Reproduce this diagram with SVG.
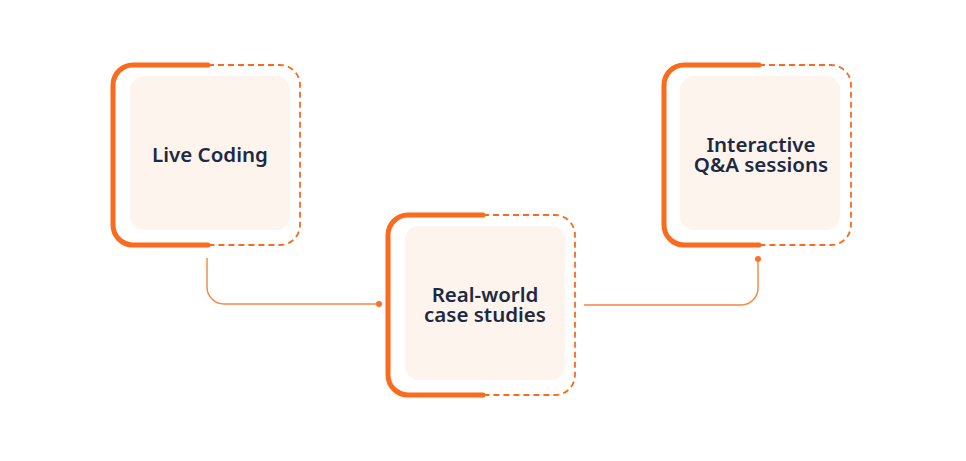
<svg xmlns="http://www.w3.org/2000/svg" width="966" height="461" viewBox="0 0 966 461">
<style>
.solid{fill:none;stroke:#FA6B1E;stroke-width:5;stroke-linecap:round}
.dash{fill:none;stroke:#FA6B1E;stroke-width:1.8;stroke-dasharray:6 4}
.inner{fill:#FDF4EE}
.lbl{font-family:"Noto Sans",sans-serif;font-weight:600;font-size:20.5px;fill:#1D2943;text-anchor:middle}
.conn{fill:none;stroke:#F7843F;stroke-width:1.4}
.dot{fill:#F7722A}
</style>
<rect width="966" height="461" fill="#ffffff"/>
<g id="connectors">
<path class="conn" d="M207,258 V287 A17,17 0 0 0 224,304 H379"/>
<circle class="dot" cx="379" cy="304" r="3"/>
<path class="conn" d="M584,305 H741 A17,17 0 0 0 758,288 V259"/>
<circle class="dot" cx="758" cy="259" r="3"/>
</g>
<g id="node-live-coding">
<rect class="inner" x="130" y="76" width="160" height="154" rx="14"/>
<path class="dash" d="M208,65 H280 A20,20 0 0 1 300,85 V225 A20,20 0 0 1 280,245 H208"/>
<path class="solid" d="M208,65 H133 A20,20 0 0 0 113,85 V225 A20,20 0 0 0 133,245 H208"/>
<text class="lbl" x="210" y="162">Live Coding</text>
</g>
<g id="node-case-studies">
<rect class="inner" x="405" y="226" width="160" height="154" rx="14"/>
<path class="dash" d="M483,215 H555 A20,20 0 0 1 575,235 V375 A20,20 0 0 1 555,395 H483"/>
<path class="solid" d="M483,215 H408 A20,20 0 0 0 388,235 V375 A20,20 0 0 0 408,395 H483"/>
<text class="lbl" x="485" y="302">Real-world</text>
<text class="lbl" x="485" y="322">case studies</text>
</g>
<g id="node-qa">
<rect class="inner" x="680" y="76" width="160" height="154" rx="14"/>
<path class="dash" d="M759,65 H831 A20,20 0 0 1 851,85 V225 A20,20 0 0 1 831,245 H759"/>
<path class="solid" d="M759,65 H684 A20,20 0 0 0 664,85 V225 A20,20 0 0 0 684,245 H759"/>
<text class="lbl" x="761" y="152">Interactive</text>
<text class="lbl" x="761" y="172">Q&amp;A sessions</text>
</g>
</svg>
